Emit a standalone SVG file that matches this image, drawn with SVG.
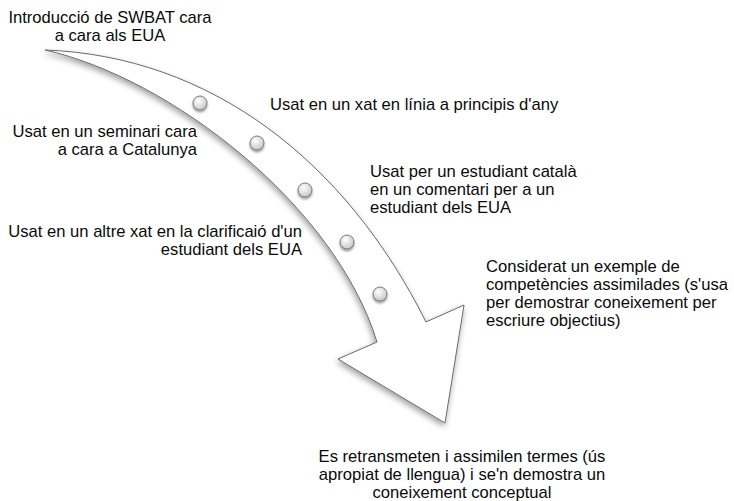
<svg xmlns="http://www.w3.org/2000/svg" width="734" height="501" viewBox="0 0 734 501">
  <defs>
    <style>
      text { font-family: "Liberation Sans", Arial, sans-serif; font-size: 16.6px; fill: #0a0a0a; }
      .mid { text-anchor: middle; }
      .end { text-anchor: end; }
      .arrow { fill: #fff; stroke: #6a6a6a; stroke-width: 1; stroke-linejoin: miter; }
      .dot { fill: url(#dotGrad); stroke: #7a7a7a; stroke-width: 1; }
    </style>
    <filter id="shadow" x="-10%" y="-10%" width="130%" height="130%">
      <feGaussianBlur in="SourceAlpha" stdDeviation="3"/>
      <feOffset dx="-1" dy="3" result="b"/>
      <feComponentTransfer><feFuncA type="linear" slope="0.38"/></feComponentTransfer>
      <feMerge><feMergeNode/><feMergeNode in="SourceGraphic"/></feMerge>
    </filter>
    <filter id="dshadow" x="-50%" y="-50%" width="200%" height="200%">
      <feGaussianBlur in="SourceAlpha" stdDeviation="1.2"/>
      <feOffset dx="0" dy="1.5"/>
      <feComponentTransfer><feFuncA type="linear" slope="0.4"/></feComponentTransfer>
      <feMerge><feMergeNode/><feMergeNode in="SourceGraphic"/></feMerge>
    </filter>
    <radialGradient id="dotGrad" cx="0.4" cy="0.35" r="0.7">
      <stop offset="0" stop-color="#ffffff"/>
      <stop offset="1" stop-color="#c4c4c4"/>
    </radialGradient>
  </defs>

  <g id="arrow" filter="url(#shadow)">
    <path class="arrow" d="M 45,50 C 210,56 345,160 426,322 L 464,305 L 445,423 L 338,359 L 377,342 C 335,205 170,78 45,50 Z"/>
  </g>

  <g id="connectors">
    <g id="dot1" filter="url(#dshadow)"><circle class="dot" cx="200" cy="103" r="7"/></g>
    <g id="dot2" filter="url(#dshadow)"><circle class="dot" cx="257" cy="143" r="7"/></g>
    <g id="dot3" filter="url(#dshadow)"><circle class="dot" cx="305" cy="190" r="7"/></g>
    <g id="dot4" filter="url(#dshadow)"><circle class="dot" cx="347" cy="242" r="7"/></g>
    <g id="dot5" filter="url(#dshadow)"><circle class="dot" cx="380" cy="294" r="7"/></g>
  </g>

  <g id="label-start">
    <text class="mid" x="110" y="23">Introducció de SWBAT cara</text>
    <text class="mid" x="110" y="41">a cara als EUA</text>
  </g>
  <g id="label-1">
    <text x="270" y="110">Usat en un xat en línia a principis d'any</text>
  </g>
  <g id="label-2">
    <text class="end" x="197" y="137">Usat en un seminari cara</text>
    <text class="end" x="197" y="155">a cara a Catalunya</text>
  </g>
  <g id="label-3">
    <text x="370" y="177">Usat per un estudiant català</text>
    <text x="370" y="195">en un comentari per a un</text>
    <text x="370" y="213">estudiant dels EUA</text>
  </g>
  <g id="label-4">
    <text class="end" x="302" y="237">Usat en un altre xat en la clarificaió d'un</text>
    <text class="end" x="302" y="255">estudiant dels EUA</text>
  </g>
  <g id="label-5">
    <text x="486" y="272">Considerat un exemple de</text>
    <text x="486" y="290">competències assimilades (s'usa</text>
    <text x="486" y="308">per demostrar coneixement per</text>
    <text x="486" y="326">escriure objectius)</text>
  </g>
  <g id="label-end">
    <text class="mid" x="462" y="462">Es retransmeten i assimilen termes (ús</text>
    <text class="mid" x="462" y="480">apropiat de llengua) i se'n demostra un</text>
    <text class="mid" x="462" y="498">coneixement conceptual</text>
  </g>
</svg>
